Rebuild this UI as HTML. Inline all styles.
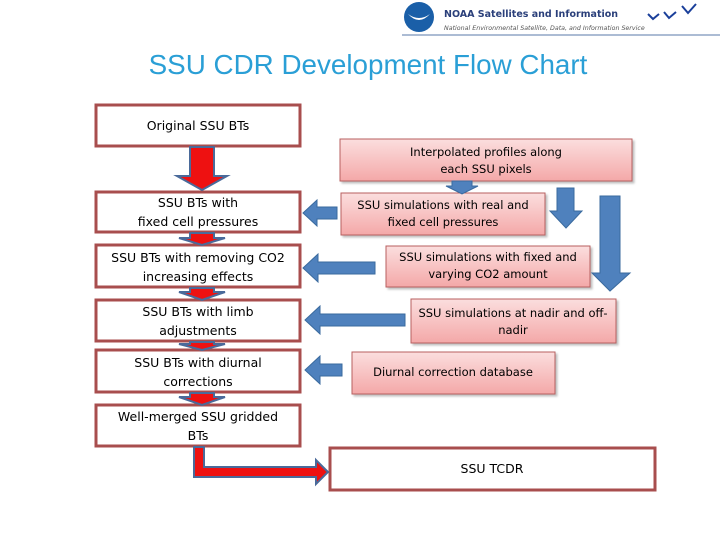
<!DOCTYPE html>
<html><head><meta charset="utf-8"><style>
html,body{margin:0;padding:0;background:#fff;width:720px;height:540px;overflow:hidden}
svg{display:block}
</style></head><body>
<svg width="720" height="540" viewBox="0 0 720 540" xmlns="http://www.w3.org/2000/svg" font-family="DejaVu Sans, Liberation Sans, sans-serif">
<defs>
<linearGradient id="pk" x1="0" y1="0" x2="0" y2="1">
<stop offset="0" stop-color="#fbdede"/><stop offset="1" stop-color="#f4a8a8"/></linearGradient>
</defs>
<!-- header -->
<circle cx="419" cy="17" r="15" fill="#1a5fa8"/>
<path d="M408 14 Q419 26 430 14 Q419 22 408 14Z" fill="#fff"/>
<text x="444" y="17" font-size="9.5" font-weight="bold" fill="#2a3f7a">NOAA Satellites and Information</text>
<text x="444" y="30" font-size="6.3" font-style="italic" fill="#555">National Environmental Satellite, Data, and Information Service</text>
<path d="M648 14 l5 5 l6 -5 M664 12 l5 6 l7 -6 M682 6 l6 7 l8 -9" stroke="#1a3f9a" stroke-width="2" fill="none"/>
<line x1="402" y1="35" x2="720" y2="35" stroke="#5a7aa8" stroke-width="1"/>
<!-- title -->
<text x="368" y="74" font-family="Liberation Sans, sans-serif" font-size="27.8" fill="#2a9fd6" text-anchor="middle">SSU CDR Development Flow Chart</text>

<!-- left boxes -->
<g fill="#fff" stroke="#a84e4e" stroke-width="3">
<rect x="96" y="105" width="204" height="41"/>
<rect x="96" y="192" width="204" height="40"/>
<rect x="96" y="245" width="204" height="42"/>
<rect x="96" y="300" width="204" height="41"/>
<rect x="96" y="350" width="204" height="42"/>
<rect x="96" y="405" width="204" height="41"/>
<rect x="330" y="448" width="325" height="42"/>
</g>
<!-- big red arrow -->
<path d="M190 147 H214 V176 H227 L202 190 L177 176 H190 Z" fill="#ee1111" stroke="#4a6a9a" stroke-width="2"/>
<!-- small red arrows between boxes -->
<g fill="#ee1111" stroke="#4a6a9a" stroke-width="2">
<path d="M190 233 H214 V238 H225 L202 245 L179 238 H190 Z"/>
<path d="M190 288 H214 V292 H225 L202 300 L179 292 H190 Z"/>
<path d="M190 342 H214 V344 H225 L202 350 L179 344 H190 Z"/>
<path d="M190 393 H214 V397 H225 L202 405 L179 397 H190 Z"/>
<path d="M194 447 H204 V467 H316 V460 L328 472 L316 484 V477 H194 Z"/>
</g>
<!-- right pink boxes -->
<g fill="url(#pk)" stroke="#b86060" stroke-width="1" style="filter:drop-shadow(2px 2px 1px rgba(0,0,0,0.25))">
<rect x="340" y="139" width="292" height="42"/>
<rect x="341" y="193" width="204" height="42"/>
<rect x="386" y="246" width="204" height="41"/>
<rect x="411" y="299" width="205" height="44"/>
<rect x="352" y="352" width="203" height="42"/>
</g>
<!-- blue arrows -->
<g fill="#4f81bd" stroke="#3a6a9e" stroke-width="1">
<path d="M337 207 V219 H317 V226 L303 213 L317 200 V207 Z"/>
<path d="M375 262 V274 H318 V282 L303 268 L318 254 V262 Z"/>
<path d="M405 314 V326 H320 V334 L305 320 L320 306 V314 Z"/>
<path d="M342 364 V376 H320 V384 L305 370 L320 356 V364 Z"/>
<path d="M452 181 H472 V186 H478 L462 194 L446 186 H452 Z"/>
<path d="M557 188 H574 V211 H582 L566 228 L550 211 H557 Z"/>
<path d="M600 196 H620 V273 H630 L610 291 L592 273 H600 Z"/>
</g>
<!-- text -->
<g font-size="12.5" fill="#000" text-anchor="middle">
<text x="198" y="130">Original SSU BTs</text>
<text x="198" y="207">SSU BTs with</text>
<text x="198" y="226">fixed cell pressures</text>
<text x="198" y="262">SSU BTs with removing CO2</text>
<text x="198" y="281">increasing effects</text>
<text x="198" y="316">SSU BTs with limb</text>
<text x="198" y="335">adjustments</text>
<text x="198" y="367">SSU BTs with diurnal</text>
<text x="198" y="386">corrections</text>
<text x="198" y="421">Well-merged SSU gridded</text>
<text x="198" y="440">BTs</text>
<text x="492" y="473">SSU TCDR</text>
</g>
<g font-size="11.5" fill="#000" text-anchor="middle">
<text x="486" y="156">Interpolated profiles along</text>
<text x="486" y="173">each SSU pixels</text>
<text x="443" y="209">SSU simulations with real and</text>
<text x="443" y="226">fixed cell pressures</text>
<text x="488" y="261">SSU simulations with fixed and</text>
<text x="488" y="278">varying CO2 amount</text>
<text x="513" y="317">SSU simulations at nadir and off-</text>
<text x="513" y="334">nadir</text>
<text x="453" y="376">Diurnal correction database</text>
</g>
</svg>
</body></html>
